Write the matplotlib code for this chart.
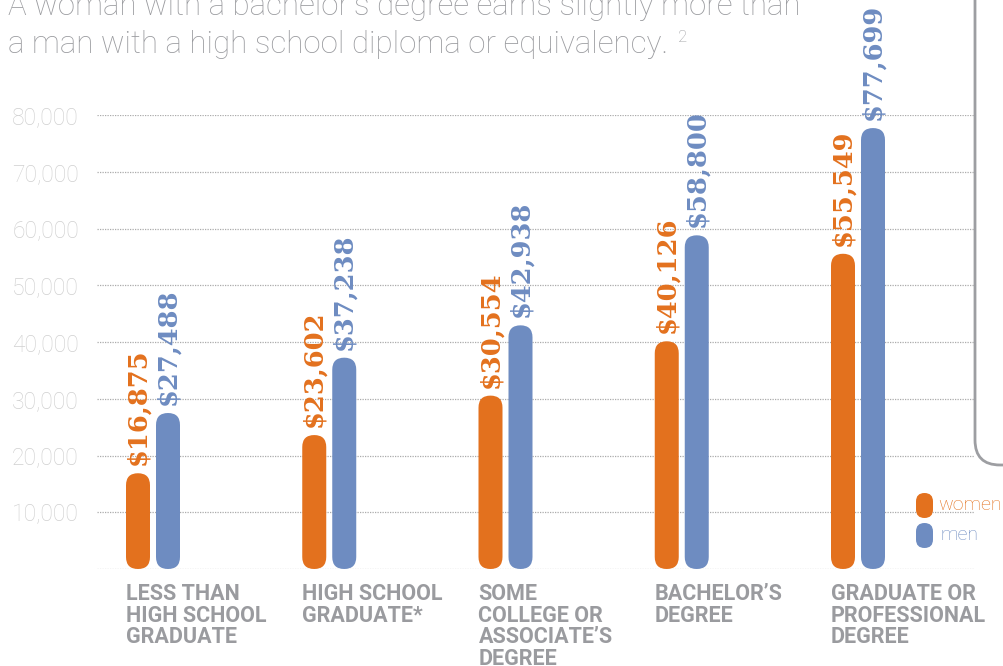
"""Median earnings by education level, women vs men (rounded bar chart)."""

import matplotlib

matplotlib.use("Agg")
import matplotlib.pyplot as plt  # noqa: E402
from matplotlib.patches import FancyBboxPatch  # noqa: E402

CATEGORIES = [
    "LESS THAN\nHIGH SCHOOL\nGRADUATE",
    "HIGH SCHOOL\nGRADUATE*",
    "SOME\nCOLLEGE OR\nASSOCIATE\u2019S\nDEGREE",
    "BACHELOR\u2019S\nDEGREE",
    "GRADUATE OR\nPROFESSIONAL\nDEGREE",
]
WOMEN = [16875, 23602, 30554, 40126, 55549]
MEN = [27488, 37238, 42938, 58800, 77699]
YTICKS = [0, 10000, 20000, 30000, 40000, 50000, 60000, 70000, 80000]
TITLE_LINES = [
    "A woman with a bachelor\u2019s degree earns slightly more than",
    "a man with a high school diploma or equivalency.",
]

ORANGE = "#e3711e"
BLUE = "#6e8cc1"
GREY_TXT = "#9a9b9f"
W_PX, H_PX, DPI = 1004, 666, 100

fig = plt.figure(figsize=(W_PX / DPI, H_PX / DPI), dpi=DPI)
# axes box in pixels: left 97, right 975, zero line at y=569, 80k at y=115
left, right, bottom_px, top_px = 97, 975, 569, 115
ax = fig.add_axes([left / W_PX, (H_PX - bottom_px) / H_PX,
                   (right - left) / W_PX, (bottom_px - top_px) / H_PX])

# group i sits at x=i; first group at 153px, last at 858px
px_per_x = (858 - 153) / 4
ax.set_xlim(-(153 - left) / px_per_x, 4 + (right - 858) / px_per_x)
ax.set_ylim(0, 80000)

bar_w = 24 / px_per_x
offset = 15 / px_per_x
px_per_y = (bottom_px - top_px) / 80000
aspect = (1 / px_per_y) / (1 / px_per_x)

for i, (w, m) in enumerate(zip(WOMEN, MEN)):
    for val, dx, col in ((w, -offset, ORANGE), (m, offset, BLUE)):
        ax.add_patch(FancyBboxPatch(
            (i + dx - bar_w / 2, 0), bar_w, val,
            boxstyle=f"round,pad=0,rounding_size={bar_w / 2}",
            mutation_aspect=aspect, facecolor=col, edgecolor="none", zorder=3))
        ax.annotate(f"${val:,}", xy=(i + dx, val), xytext=(0, 8),
                    textcoords="offset pixels", rotation=90, ha="center",
                    va="bottom", color=col, fontsize=18.5,
                    family="DejaVu Serif", weight="bold", zorder=4)
    ax.annotate(CATEGORIES[i], xy=(i - offset - bar_w / 2, 0), xytext=(0, -14),
                textcoords="offset pixels", ha="left", va="top",
                color=GREY_TXT, fontsize=15.5, family="Roboto", weight="bold",
                linespacing=0.98, annotation_clip=False)

ax.set_yticks(YTICKS)
ax.set_yticklabels([""] + [f"{v:,}" for v in YTICKS[1:]])
ax.set_xticks([])
ax.tick_params(axis="y", length=0, pad=13, labelsize=16.5, labelcolor="#d0d0d0")
for lab in ax.get_yticklabels():
    lab.set_family("Roboto")
    lab.set_weight("light")
ax.grid(axis="y", color="#ababab", linestyle=(0, (1, 1)), linewidth=0.9)
ax.set_axisbelow(True)
for s in ax.spines.values():
    s.set_visible(False)

# title (cut at the top edge, as in the source)
for k, line in enumerate(TITLE_LINES):
    t = fig.text(8 / W_PX, (H_PX - 15 - 38 * k) / H_PX, line, ha="left",
                 va="baseline", fontsize=22.5, family="Roboto",
                 weight="light", color=GREY_TXT)
fig.canvas.draw()
bb = t.get_window_extent()
fig.text((bb.x1 + 10) / W_PX, (H_PX - 42) / H_PX, "2", ha="left",
         va="baseline", fontsize=12, family="Roboto", weight="light",
         color=GREY_TXT)

# rounded side panel on the right
fig.add_artist(FancyBboxPatch(
    (975 / DPI, (H_PX - 465) / DPI), 2.0, 6.0,
    boxstyle="round,pad=0,rounding_size=0.25", transform=fig.dpi_scale_trans,
    facecolor="none", edgecolor="#9d9ea2", linewidth=2, clip_on=False))

# legend
for (name, col, y0, tx) in (("women", ORANGE, 493, 938), ("men", BLUE, 523, 941)):
    fig.add_artist(FancyBboxPatch(
        (916 / DPI, (H_PX - y0 - 25) / DPI), 17 / DPI, 25 / DPI,
        boxstyle="round,pad=0,rounding_size=0.085",
        transform=fig.dpi_scale_trans, facecolor=col, edgecolor="none"))
    fig.text(tx / W_PX, (H_PX - y0 - 12) / H_PX, name, ha="left",
             va="center", fontsize=14, family="Roboto", weight="light",
             color=col)

fig.savefig("out.png", dpi=DPI)
